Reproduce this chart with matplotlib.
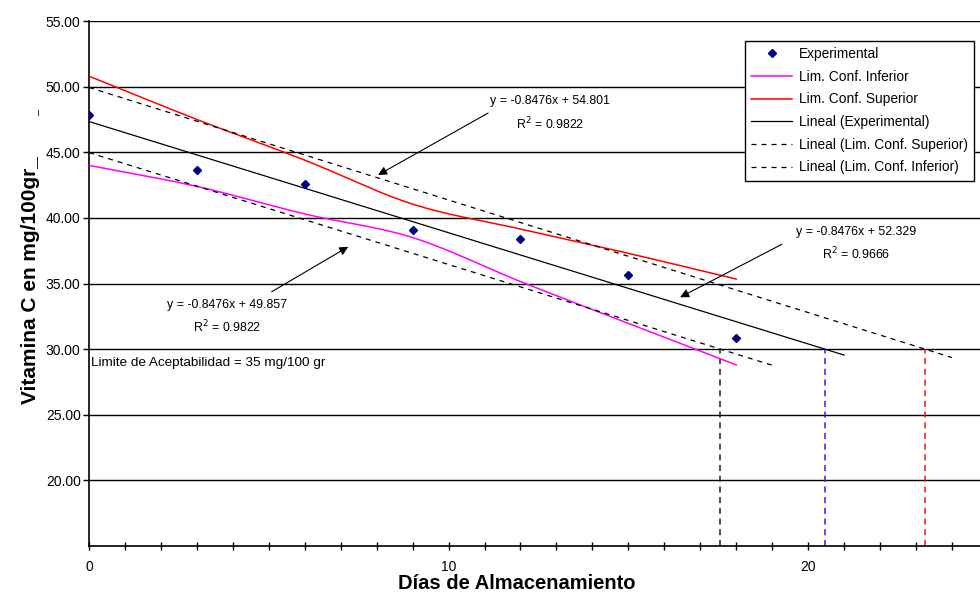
import numpy as np
import matplotlib
matplotlib.use("Agg")
import matplotlib.pyplot as plt
from matplotlib.lines import Line2D

plt.rcParams['font.family'] = ['Liberation Sans', 'DejaVu Sans']

# datos medidos (dias de almacenamiento vs vitamina C)
dias = [0, 3, 6, 9, 12, 15, 18]
vit_c_exp = [47.84, 43.64, 42.58, 39.07, 38.40, 35.64, 30.84]
lim_conf_sup = [50.80, 47.50, 44.40, 41.05, 39.15, 37.30, 35.34]
lim_conf_inf = [44.00, 42.40, 40.30, 38.50, 35.15, 31.96, 28.80]

# pronostico hacia adelante de cada linea de tendencia (dias)
pron_exp = 3
pron_sup = 6
pron_inf = 1
limite = 30.0

y_ticks = [20, 25, 30, 35, 40, 45, 50, 55]


# curva suavizada tipo Excel (Catmull-Rom) entre los puntos
def suavizar(x, y, n=30):
    x = np.asarray(x, float)
    y = np.asarray(y, float)
    px = np.concatenate([[2 * x[0] - x[1]], x, [2 * x[-1] - x[-2]]])
    py = np.concatenate([[2 * y[0] - y[1]], y, [2 * y[-1] - y[-2]]])
    xs, ys = [], []
    for i in range(1, len(px) - 2):
        t = np.linspace(0, 1, n, endpoint=False)
        for p, out in ((px, xs), (py, ys)):
            p0, p1, p2, p3 = p[i - 1], p[i], p[i + 1], p[i + 2]
            out.extend(0.5 * ((2 * p1) + (-p0 + p2) * t
                              + (2 * p0 - 5 * p1 + 4 * p2 - p3) * t ** 2
                              + (-p0 + 3 * p1 - 3 * p2 + p3) * t ** 3))
    xs.append(x[-1])
    ys.append(y[-1])
    return np.array(xs), np.array(ys)


def tendencia(x, y, pron):
    m, b = np.polyfit(x, y, 1)
    xx = np.array([x[0], x[-1] + pron])
    return xx, m * xx + b, (limite - b) / m


fig = plt.figure(figsize=(9.8, 5.92), dpi=100)
ax = fig.add_axes([0.0908, 0.0777, 0.9092, 0.8868])

for y in y_ticks:
    ax.axhline(y, color='black', lw=1.0, zorder=1)

sx, sy = suavizar(dias, lim_conf_inf)
ax.plot(sx, sy, color='#ff00ff', lw=1.1, zorder=3)
sx, sy = suavizar(dias, lim_conf_sup)
ax.plot(sx, sy, color='#ff0000', lw=1.1, zorder=3)

tx, ty, cruce_exp = tendencia(dias, vit_c_exp, pron_exp)
ax.plot(tx, ty, color='black', lw=0.9, zorder=3)
tx, ty, cruce_sup = tendencia(dias, lim_conf_sup, pron_sup)
ax.plot(tx, ty, color='black', lw=0.9, ls=(0, (4, 4)), zorder=3)
tx, ty, cruce_inf = tendencia(dias, lim_conf_inf, pron_inf)
ax.plot(tx, ty, color='black', lw=0.9, ls=(0, (4, 4)), zorder=3)

ax.plot(dias, vit_c_exp, ls='none', marker='D', ms=4.5, color='#000080', zorder=4)

# dias en que cada tendencia llega al limite
for xc, col in ((cruce_inf, '#222222'), (cruce_exp, '#2222ff'), (cruce_sup, '#ff1111')):
    ax.plot([xc, xc], [15, limite], color=col, lw=1.1, ls=(0, (4, 3)), zorder=2)

ax.set_xlim(0, 24.78)
ax.set_ylim(15, 55)
ax.set_yticks(y_ticks)
ax.set_yticklabels(['%.2f' % v for v in y_ticks])
ax.set_xticks([0, 10, 20])
ax.set_xticks(np.arange(0, 25), minor=True)
ax.tick_params(axis='y', direction='out', length=4, width=1, labelsize=10, pad=2)
ax.tick_params(axis='x', which='both', direction='inout', length=6, width=1,
               labelsize=10, pad=7)
for s in ('top', 'right'):
    ax.spines[s].set_visible(False)
for s in ('left', 'bottom'):
    ax.spines[s].set_linewidth(1.2)

ax.set_xlabel('Días de Almacenamiento', fontsize=14.5, fontweight='bold')
ax.xaxis.set_label_coords(0.48, -0.0815)
ax.xaxis.label.set_va('baseline')
ax.set_ylabel('Vitamina C en mg/100gr_', fontsize=15, fontweight='bold')
ax.yaxis.set_label_coords(-0.066, 0.507)
ax.yaxis.label.set_va('center')
fig.text(0.036, 0.81, '_', rotation=90, fontsize=8, ha='center', va='center')

flecha = dict(arrowstyle='-|>', color='black', lw=0.8, mutation_scale=13,
              shrinkA=0, shrinkB=0)
ax.annotate('', xy=(8.04, 43.27), xytext=(11.10, 47.99), arrowprops=flecha, zorder=5)
ax.text(12.82, 47.95, 'y = -0.8476x + 54.801\nR$^2$ = 0.9822', fontsize=8.9,
        ha='center', va='center', linespacing=1.6)
ax.annotate('', xy=(7.21, 37.80), xytext=(5.08, 34.37), arrowprops=flecha, zorder=5)
ax.text(3.84, 32.45, 'y = -0.8476x + 49.857\nR$^2$ = 0.9822', fontsize=8.9,
        ha='center', va='center', linespacing=1.6)
ax.annotate('', xy=(16.44, 33.95), xytext=(19.27, 37.99), arrowprops=flecha, zorder=5)
ax.text(21.34, 38.0, 'y = -0.8476x + 52.329\nR$^2$ = 0.9666', fontsize=8.9,
        ha='center', va='center', linespacing=1.6)
ax.text(0.06, 28.94, 'Limite de Aceptabilidad = 35 mg/100 gr', fontsize=9.7,
        ha='left', va='center')

handles = [
    Line2D([], [], ls='none', marker='D', ms=4.5, color='#000080'),
    Line2D([], [], color='#ff00ff', lw=1.1),
    Line2D([], [], color='#ff0000', lw=1.1),
    Line2D([], [], color='black', lw=0.9),
    Line2D([], [], color='black', lw=0.9, ls=(0, (4, 4))),
    Line2D([], [], color='black', lw=0.9, ls=(0, (4, 4))),
]
labels = ['Experimental', 'Lim. Conf. Inferior', 'Lim. Conf. Superior',
          'Lineal (Experimental)', 'Lineal (Lim. Conf. Superior)',
          'Lineal (Lim. Conf. Inferior)']
leg = ax.legend(handles, labels, loc='upper left', bbox_to_anchor=(0.736, 0.962),
                borderaxespad=0, fontsize=9.9, frameon=True, fancybox=False,
                edgecolor='black', framealpha=1, handlelength=3.0,
                labelspacing=0.63, borderpad=0.45, handletextpad=0.5)
leg.get_frame().set_linewidth(1.0)
leg.set_zorder(6)

fig.savefig('out.png', dpi=100)
